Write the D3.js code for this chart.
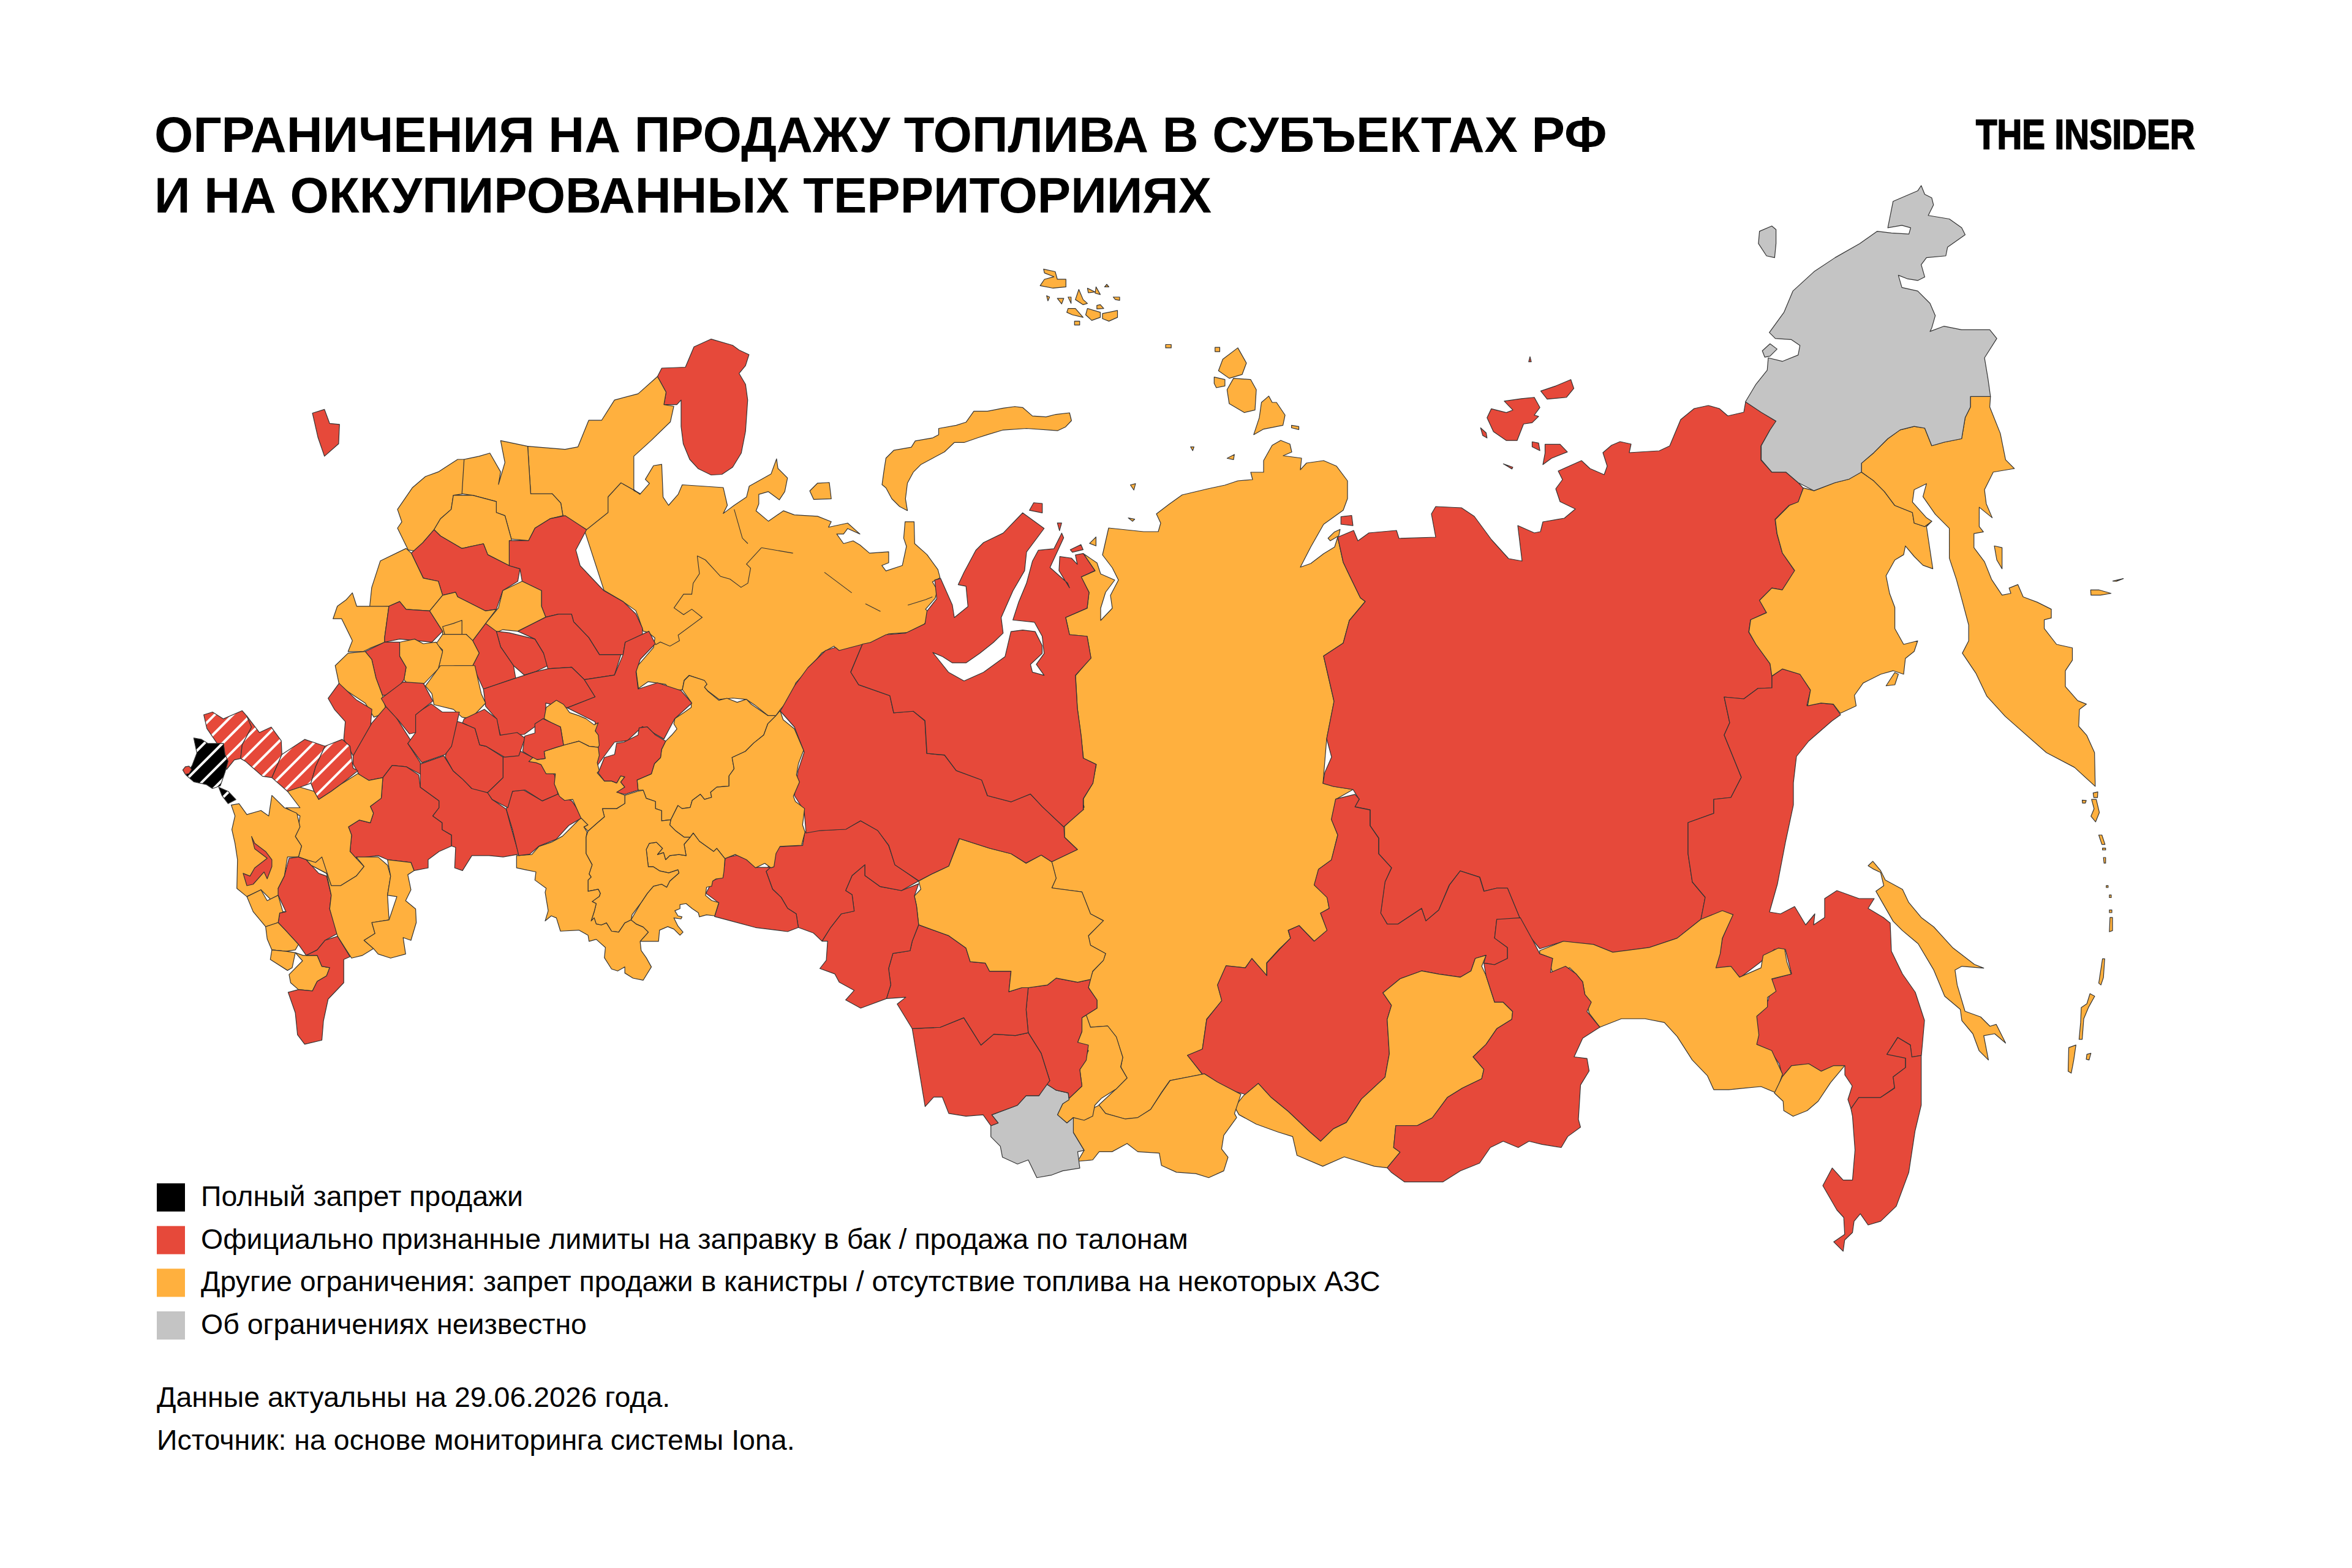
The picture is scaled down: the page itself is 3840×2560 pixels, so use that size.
<!DOCTYPE html>
<html>
<head>
<meta charset="utf-8">
<script src="https://cdnjs.cloudflare.com/ajax/libs/d3/7.8.5/d3.min.js"></script>
<style>
  body { margin: 0; background: #fff; }
  text { font-family: "Liberation Sans", sans-serif; fill: #000; }
</style>
</head>
<body>
<svg id="map" width="3840" height="2560"></svg>
<script>
// text
const titleLines = ["ОГРАНИЧЕНИЯ НА ПРОДАЖУ ТОПЛИВА В СУБЪЕКТАХ РФ", "И НА ОККУПИРОВАННЫХ ТЕРРИТОРИИЯХ"];
const logoText = "THE INSIDER";
const legendKeys = ["ban", "limit", "other", "unknown"];
const legendLabels = [
  "Полный запрет продажи",
  "Официально признанные лимиты на заправку в бак / продажа по талонам",
  "Другие ограничения: запрет продажи в канистры / отсутствие топлива на некоторых АЗС",
  "Об ограничениях неизвестно"
];
const footerLines = ["Данные актуальны на 29.06.2026 года.", "Источник: на основе мониторинга системы Iona."];

// outlines were traced on crops of the map, each sheet is [left, top, width, height]
const sheets = {
  A: [200, 500, 1100, 800], B: [250, 1100, 800, 700], C: [1000, 600, 1000, 800],
  D: [1100, 1300, 1100, 700], E: [1900, 1200, 1100, 800], F: [2600, 280, 900, 900],
  G: [2800, 1100, 800, 960], H: [1600, 400, 1100, 650], I: [850, 1130, 523, 523],
  J: [1000, 700, 700, 700], R: [0, 0, 1568, 1568]
};

// north and far east
const northEurope = [[-103,370],[-60,300],[0,230],[30,190],[70,195],[75,220],[100,240],[135,200],[120,185],[150,135],[180,130],[185,250],[205,280],[240,240],[255,205],[330,210],[405,215],[420,280],[405,310],[445,280],[490,250],[500,210],[580,165],[600,110],[605,145],[640,180],[630,230],[610,260],[570,230],[535,240],[535,275],[525,300],[570,338],[625,300],[665,315],[750,320],[800,340],[790,360],[860,345],[905,385],[860,365],[845,385],[820,385],[845,420],[880,410],[905,425],[940,455],[1010,450],[1010,490],[985,500],[1000,520],[1060,500],[1075,430],[1065,400],[1070,340],[1103,340],[1105,420],[1150,460],[1190,515],[1198,545],[1170,560],[1188,590],[1180,620],[1145,660],[1165,680],[1140,715],[1080,745],[1010,750],[950,780],[915,790],[825,815],[810,795],[765,820],[720,875],[670,930],[650,985],[615,1025],[597,1050],[570,1050],[520,1010],[490,990],[440,985],[390,990],[350,960],[335,945],[345,935],[335,920],[280,902],[262,920],[255,955],[205,955],[195,935],[130,925],[95,950],[85,875],[150,800],[155,765],[130,745],[112,740],[95,690],[85,665],[35,630],[-31,591]];
const novayaZemlya = [[690,375],[695,330],[700,290],[720,265],[765,255],[775,235],[820,225],[835,215],[835,195],[880,185],[905,175],[925,140],[960,140],[1000,130],[1030,125],[1050,128],[1075,155],[1110,158],[1135,150],[1170,145],[1175,170],[1160,190],[1140,202],[1060,195],[1000,200],[960,215],[935,225],[900,240],[875,240],[850,270],[820,290],[790,310],[770,335],[755,370],[750,420],[755,458],[735,445],[715,420],[700,385]];
const kolguev = [[505,395],[525,370],[555,368],[560,420],[515,422]];
const krasnoyarsk = [[1810,862],[1867,868],[1891,868],[1895,854],[1888,839],[1909,823],[1930,808],[1972,798],[2000,792],[2021,785],[2045,783],[2042,771],[2063,771],[2063,752],[2077,727],[2091,719],[2106,725],[2109,738],[2095,744],[2125,748],[2123,767],[2133,756],[2161,752],[2182,761],[2200,785],[2200,814],[2193,833],[2161,856],[2140,893],[2123,926],[2140,920],[2161,904],[2179,893],[2184,877],[2193,918],[2203,939],[2221,976],[2229,982],[2203,1013],[2193,1050],[2161,1071],[2178,1145],[2166,1206],[2160,1279],[2177,1284],[2209,1289],[2181,1305],[2174,1338],[2184,1363],[2174,1404],[2153,1419],[2146,1445],[2167,1465],[2170,1483],[2156,1491],[2167,1519],[2146,1537],[2121,1511],[2103,1519],[2107,1532],[2089,1549],[2068,1572],[2068,1593],[2044,1565],[2033,1580],[2002,1577],[1988,1608],[1995,1634],[1970,1664],[1963,1713],[1939,1723],[1963,1754],[1910,1764],[1896,1784],[1879,1811],[1858,1825],[1837,1827],[1805,1818],[1794,1804],[1822,1778],[1840,1760],[1830,1742],[1833,1726],[1822,1693],[1808,1675],[1780,1677],[1773,1657],[1791,1646],[1791,1633],[1777,1612],[1780,1599],[1784,1586],[1801,1568],[1805,1557],[1780,1543],[1777,1528],[1801,1503],[1780,1492],[1766,1456],[1717,1450],[1724,1434],[1717,1407],[1759,1387],[1738,1367],[1738,1349],[1770,1318],[1766,1300],[1769,1322],[1769,1304],[1784,1279],[1790,1248],[1769,1238],[1765,1202],[1759,1156],[1756,1103],[1781,1074],[1775,1039],[1746,1036],[1740,1008],[1775,993],[1778,967],[1765,942],[1788,932],[1769,904],[1791,919],[1797,937],[1820,947],[1805,967],[1797,993],[1797,1013],[1816,993],[1813,972],[1826,947],[1816,927],[1800,906]];
const yakutia = [[2184,877],[2210,866],[2217,883],[2235,870],[2280,866],[2284,879],[2344,877],[2337,839],[2344,827],[2386,829],[2407,843],[2435,881],[2463,912],[2485,916],[2478,858],[2505,870],[2515,868],[2519,852],[2554,846],[2572,831],[2547,819],[2540,798],[2551,783],[2544,769],[2582,752],[2596,765],[2619,775],[2624,761],[2617,739],[2631,727],[2645,721],[2663,725],[2660,739],[2709,736],[2726,728],[2744,685],[2766,667],[2789,662],[2807,667],[2821,679],[2847,673],[2850,656],[2876,673],[2900,688],[2890,702],[2875,728],[2875,751],[2893,771],[2916,771],[2936,788],[2944,797],[2936,820],[2921,825],[2898,848],[2901,871],[2910,903],[2930,932],[2910,963],[2893,960],[2873,980],[2884,1000],[2858,1012],[2855,1032],[2867,1052],[2890,1084],[2893,1104],[2893,1123],[2870,1124],[2847,1141],[2815,1138],[2824,1180],[2815,1200],[2843,1269],[2826,1302],[2798,1305],[2798,1328],[2756,1343],[2756,1394],[2763,1440],[2784,1465],[2777,1501],[2738,1532],[2693,1547],[2633,1555],[2601,1542],[2552,1537],[2514,1549],[2496,1527],[2482,1501],[2461,1450],[2444,1450],[2423,1455],[2416,1432],[2384,1422],[2366,1445],[2349,1486],[2328,1504],[2321,1483],[2282,1509],[2265,1509],[2254,1491],[2261,1440],[2272,1417],[2251,1394],[2251,1368],[2237,1348],[2237,1322],[2212,1317],[2219,1305],[2209,1289],[2177,1284],[2160,1279],[2163,1261],[2174,1236],[2166,1206],[2178,1145],[2161,1071],[2193,1050],[2203,1013],[2229,982],[2221,976],[2203,939],[2193,918]];
const khabarovsk = [[2815,1138],[2847,1141],[2870,1124],[2893,1123],[2893,1104],[2910,1092],[2939,1101],[2956,1127],[2950,1152],[2973,1148],[2993,1150],[3005,1167],[2991,1177],[2984,1183],[2953,1210],[2933,1235],[2928,1278],[2928,1314],[2915,1375],[2902,1443],[2889,1489],[2907,1492],[2930,1480],[2948,1510],[2963,1492],[2961,1510],[2979,1498],[2979,1467],[2999,1454],[3035,1467],[3060,1467],[3050,1483],[3075,1498],[3086,1507],[3088,1553],[3106,1590],[3127,1620],[3142,1666],[3137,1723],[3121,1726],[3119,1706],[3098,1694],[3081,1721],[3111,1727],[3111,1743],[3091,1758],[3093,1776],[3070,1792],[3035,1792],[3022,1810],[3017,1795],[3024,1773],[3012,1755],[3012,1740],[2994,1740],[2973,1749],[2953,1737],[2925,1740],[2910,1758],[2905,1737],[2892,1718],[2866,1706],[2866,1657],[2887,1633],[2889,1623],[2892,1599],[2925,1590],[2915,1550],[2897,1550],[2874,1571],[2841,1596],[2823,1578],[2800,1581],[2808,1557],[2812,1532],[2829,1493],[2791,1501],[2777,1501],[2784,1465],[2763,1440],[2756,1394],[2756,1343],[2798,1328],[2798,1305],[2826,1302],[2843,1269],[2815,1200],[2824,1180]];
const magadan = [[765,830],[765,855],[800,880],[830,910],[860,950],[910,970],[915,1000],[945,1010],[965,995],[950,1010],[968,1130],[940,1120],[915,1095],[890,1065],[885,1090],[860,1105],[835,1150],[845,1200],[860,1240],[860,1300],[885,1345],[925,1335],[915,1365],[890,1385],[885,1430],[855,1420],[820,1430],[770,1455],[745,1490],[750,1520],[705,1541],[685,1515],[650,1512],[612,1520],[620,1475],[590,1430],[540,1415],[510,1435],[505,1400],[465,1345],[445,1310],[450,1275],[495,1255],[475,1220],[510,1185],[540,1190],[575,1135],[540,1085],[525,1030],[520,990],[560,950],[585,940],[600,900],[630,908],[690,885],[730,875]];
const kamchatka = [[765,830],[800,800],[840,760],[875,735],[915,725],[945,730],[965,780],[1000,770],[1050,760],[1060,700],[1075,670],[1075,640],[1132,640],[1130,670],[1160,745],[1175,820],[1200,845],[1140,855],[1115,905],[1120,945],[1137,985],[1100,955],[1100,1010],[1112,1025],[1085,1030],[1085,1070],[1115,1110],[1135,1160],[1165,1205],[1190,1200],[1185,1185],[1210,1175],[1225,1210],[1265,1225],[1305,1245],[1305,1270],[1285,1275],[1285,1300],[1320,1345],[1365,1355],[1365,1390],[1345,1420],[1345,1465],[1380,1505],[1405,1515],[1385,1530],[1383,1578],[1406,1604],[1428,1653],[1430,1749],[1371,1695],[1291,1653],[1174,1550],[1122,1493],[1091,1428],[1052,1370],[1070,1335],[1070,1290],[1050,1215],[1035,1160],[1015,1100],[1015,1015],[975,975],[940,925],[950,888],[915,905],[910,940],[950,985],[965,995],[945,1010],[915,1000],[910,970],[860,950],[830,910],[800,880],[765,855]];
const karaginsky = [[1143,1065],[1165,1070],[1165,1130],[1150,1105]];
const commanderA = [[1417,1190],[1440,1190],[1475,1200],[1445,1205],[1418,1205]];
const commanderB = [[1480,1165],[1510,1158],[1490,1166]];
const shantarLike = [[835,1463],[850,1440],[860,1425],[870,1430],[860,1460]];
const chukotka = [[435,655],[465,605],[497,565],[500,530],[540,540],[585,522],[590,495],[565,478],[520,475],[503,458],[545,400],[570,340],[630,285],[690,245],[760,205],[810,170],[850,175],[900,178],[905,160],[880,153],[840,160],[855,85],[925,55],[935,40],[945,65],[965,75],[970,95],[955,125],[1015,135],[1050,160],[1060,180],[1010,215],[1005,240],[950,245],[935,265],[945,300],[925,310],[895,305],[870,295],[880,330],[925,340],[960,375],[975,410],[965,445],[960,455],[1000,440],[1050,450],[1130,450],[1150,475],[1115,530],[1125,590],[1132,640],[1075,640],[1075,670],[1060,700],[1050,760],[1000,770],[965,780],[945,730],[915,725],[875,735],[840,760],[800,800],[765,830],[765,855],[730,875],[690,885],[630,908],[585,885],[550,855],[510,855],[480,820],[480,780],[505,735],[522,710],[480,685]];
const wrangel = [[475,170],[510,155],[522,165],[522,205],[518,245],[495,240],[472,205]];
const ayon = [[483,510],[505,490],[525,505],[505,525],[490,528]];
const amur = [[875,690],[930,660],[1000,670],[1045,695],[1130,680],[1195,650],[1250,590],[1300,562],[1325,575],[1300,650],[1295,700],[1285,745],[1320,740],[1340,775],[1390,745],[1395,705],[1430,682],[1445,685],[1450,725],[1460,765],[1415,780],[1425,820],[1405,840],[1405,870],[1380,900],[1385,960],[1380,990],[1415,1010],[1440,1085],[1425,1145],[1390,1125],[1350,1130],[1315,1135],[1280,1135],[1265,1090],[1230,1040],[1195,965],[1165,920],[1120,908],[1065,908],[1015,935],[990,890],[980,830],[975,790],[960,765],[945,745],[905,760],[900,740],[905,715],[875,700]];
const jewish = [[190,1118],[215,1075],[245,1045],[300,1040],[340,1060],[380,1045],[415,1045],[395,1065],[370,1090],[330,1140],[295,1165],[250,1180],[220,1165],[218,1140]];
const primorye = [[660,1018],[630,1022],[625,990],[585,970],[550,1015],[610,1025],[610,1050],[570,1075],[575,1105],[530,1130],[460,1130],[435,1160],[440,1180],[448,1270],[440,1350],[410,1350],[375,1318],[345,1365],[390,1430],[412,1450],[415,1495],[380,1515],[410,1540],[415,1510],[440,1490],[445,1460],[465,1440],[490,1470],[530,1460],[580,1420],[620,1330],[640,1220],[660,1150]];
const sakhalin = [[490,512],[505,500],[530,525],[545,550],[600,575],[620,610],[660,650],[700,675],[760,730],[830,775],[860,785],[790,780],[768,790],[775,830],[800,900],[850,915],[880,940],[900,935],[930,985],[895,960],[860,965],[875,1030],[845,1005],[825,960],[790,925],[785,895],[735,860],[700,790],[650,720],[600,685],[570,660],[515,580],[540,565],[530,530],[505,520]];
const kurils = [
  [[1210,318],[1225,315],[1224,330],[1212,330]], [[1205,335],[1220,335],[1230,370],[1218,395],[1203,380],[1213,360]],
  [[1175,337],[1188,338],[1185,345],[1176,345]], [[1228,430],[1238,430],[1248,455],[1238,455]],
  [[1240,465],[1250,465],[1250,470],[1240,470]], [[1243,490],[1250,490],[1250,505],[1245,505]],
  [[1252,565],[1258,565],[1258,570],[1252,570]], [[1262,590],[1268,590],[1268,597],[1262,597]],
  [[1262,630],[1270,630],[1270,637],[1262,637]], [[1264,650],[1272,650],[1272,685],[1262,688]],
  [[1240,760],[1247,760],[1243,810],[1235,830],[1228,825]],
  [[1200,853],[1215,860],[1195,890],[1180,920],[1175,975],[1165,975],[1170,930],[1172,890],[1190,880]],
  [[1132,997],[1155,990],[1148,1030],[1140,1065],[1130,1060]], [[1190,1015],[1203,1012],[1197,1030],[1188,1028]]
];
const severnaya = [
  [[565,450],[600,405],[620,465],[610,510],[580,525],[555,495]], [[545,520],[570,530],[570,555],[550,562],[545,545]],
  [[575,570],[590,525],[630,530],[643,570],[640,650],[615,660],[580,625]],
  [[655,620],[672,595],[680,620],[690,620],[710,670],[705,710],[660,725],[637,747],[650,680]],
  [[725,710],[742,715],[742,727],[725,720]], [[547,403],[558,403],[558,420],[547,420]], [[432,392],[445,392],[445,405],[432,405]],
  [[255,1175],[270,1150],[270,1185]], [[810,1155],[825,1130],[838,1120],[835,1145],[815,1165]],
  [[350,945],[362,940],[358,965]], [[575,840],[592,825],[590,845]], [[490,795],[498,795],[495,810]], [[345,1075],[360,1080],[355,1088]]
];
const franzJosef = [
  [[148,95],[175,105],[180,135],[200,135],[200,165],[170,170],[140,160],[150,135],[172,125],[150,110]], [[155,200],[162,205],[158,220]],
  [[180,210],[195,210],[190,232]], [[205,205],[212,205],[212,230]], [[230,175],[240,215],[250,230],[240,235],[222,215]],
  [[250,170],[268,185],[252,188]], [[270,165],[280,195],[268,190]], [[280,235],[288,250],[272,252],[272,238]],
  [[205,250],[222,250],[240,285],[215,275],[202,265]], [[250,250],[280,265],[280,285],[260,297],[246,275]],
  [[285,270],[320,258],[320,285],[300,300],[285,290]], [[220,300],[232,300],[232,315],[220,315]],
  [[310,205],[325,205],[325,218],[315,215]], [[295,155],[300,165],[290,165]]
];
const newSiberian = [
  [[1305,575],[1340,555],[1375,530],[1382,565],[1365,600],[1320,607]],
  [[1220,615],[1260,605],[1290,600],[1303,640],[1290,670],[1300,675],[1285,700],[1265,705],[1250,770],[1225,770],[1195,735],[1180,680],[1190,645],[1225,660],[1240,650]],
  [[1165,720],[1178,740],[1180,760],[1170,750]], [[1285,775],[1300,780],[1303,810],[1285,795]],
  [[1315,785],[1350,785],[1367,815],[1330,840],[1310,865],[1315,820]], [[1218,862],[1240,875],[1238,882]],
  [[1280,440],[1283,460],[1277,460]], [[840,1070],[865,1065],[868,1105],[840,1100]],
  [[210,1200],[235,1180],[240,1200],[215,1210]], [[180,1095],[190,1095],[185,1125]], [[115,1045],[125,1015],[145,1018],[145,1055]]
];

// siberia
const irkutsk = [[400,205],[445,190],[455,205],[445,230],[480,240],[480,290],[500,330],[500,380],[530,425],[515,470],[505,570],[520,605],[545,605],[600,555],[610,595],[640,560],[665,480],[690,435],[735,455],[745,500],[775,490],[800,490],[830,590],[775,590],[770,650],[800,680],[800,715],[770,735],[745,730],[750,705],[725,715],[715,755],[690,775],[640,765],[600,755],[550,780],[510,825],[530,865],[520,910],[525,1020],[515,1095],[460,1165],[425,1240],[395,1260],[365,1300],[340,1270],[290,1205],[250,1160],[220,1115],[190,1150],[150,1135],[90,1085],[55,1025],[90,1005],[100,910],[135,850],[125,800],[145,738],[190,745],[205,715],[240,770],[240,730],[270,685],[295,650],[290,625],[315,610],[350,660],[380,625],[365,570],[385,555],[380,520],[350,480],[360,430],[390,400],[405,320],[390,270]];
const buryatia = [[510,825],[550,780],[600,755],[640,765],[690,775],[715,755],[725,715],[750,705],[740,740],[750,770],[770,855],[790,855],[812,885],[810,910],[775,940],[750,990],[720,1030],[745,1070],[740,1100],[695,1130],[660,1160],[625,1225],[590,1250],[540,1250],[535,1320],[550,1335],[520,1385],[490,1380],[420,1350],[370,1380],[310,1345],[300,1285],[265,1270],[215,1245],[175,1215],[165,1190],[185,1155],[220,1115],[250,1160],[290,1205],[340,1270],[365,1300],[395,1260],[425,1240],[460,1165],[515,1095],[525,1020],[520,910],[530,865]];
const zabaykalsky = [[745,730],[770,735],[800,715],[800,680],[770,650],[775,590],[830,585],[860,660],[875,700],[905,715],[900,760],[935,740],[960,765],[975,790],[980,830],[995,855],[985,885],[1015,935],[975,970],[955,1030],[985,1035],[990,1075],[970,1120],[965,1230],[970,1255],[940,1285],[925,1320],[880,1310],[850,1300],[825,1320],[790,1300],[760,1320],[735,1370],[690,1395],[650,1430],[600,1430],[560,1430],[530,1400],[520,1385],[550,1335],[535,1320],[540,1250],[590,1250],[625,1225],[660,1160],[695,1130],[740,1100],[745,1070],[720,1030],[750,990],[775,940],[810,910],[812,885],[790,855],[770,855],[750,770]];
const tuva = [[930,1175],[990,1130],[1005,1160],[1050,1180],[1080,1175],[1110,1145],[1135,1085],[1155,1040],[1235,1015],[1265,1045],[1320,1090],[1305,1160],[1310,1175],[1280,1240],[1275,1290],[1290,1320],[1280,1370],[1245,1395],[1215,1380],[1170,1375],[1135,1350],[1130,1305],[1080,1300],[1055,1270],[1020,1300],[990,1300],[975,1330],[940,1335],[955,1295],[930,1230]];
const khakassia = [[960,800],[970,845],[1010,840],[1030,880],[1045,955],[1040,990],[1055,1030],[1030,1070],[995,1105],[980,1130],[975,1170],[955,1185],[930,1175],[915,1195],[893,1165],[905,1125],[920,1105],[950,1060],[945,1000],[965,930],[940,900],[950,860],[950,810]];
const altaiRep = [[740,1165],[800,1130],[820,1095],[850,1095],[865,1050],[890,1075],[918,1085],[920,1110],[905,1125],[893,1165],[915,1195],[930,1175],[930,1230],[955,1295],[940,1300],[945,1360],[905,1370],[880,1385],[845,1395],[825,1330],[800,1345],[765,1320],[760,1280],[738,1245],[738,1205],[755,1195]];
const kemerovo = [[825,700],[870,690],[890,665],[940,680],[970,670],[965,700],[985,745],[985,775],[950,810],[950,860],[940,900],[965,910],[960,965],[945,1000],[950,1060],[920,1105],[918,1085],[890,1075],[865,1050],[875,1040],[865,990],[855,940],[825,865],[820,780]];
const altaiKrai = [[555,850],[620,845],[675,810],[695,860],[715,910],[745,870],[795,875],[825,865],[855,940],[865,990],[875,1040],[850,1095],[820,1095],[800,1130],[740,1165],[755,1195],[738,1205],[720,1165],[680,1170],[640,1160],[625,1100],[605,1100],[585,1135]];
const novosibirsk = [[495,740],[505,690],[500,630],[510,575],[550,565],[555,530],[570,470],[640,510],[680,555],[690,605],[725,610],[735,640],[785,640],[780,715],[810,700],[825,700],[820,780],[825,865],[795,875],[745,870],[715,910],[695,860],[675,810],[620,845],[555,850],[520,760],[540,735]];
const tomsk = [[570,310],[600,285],[640,255],[665,155],[735,190],[785,210],[820,245],[855,215],[880,240],[890,300],[880,335],[950,350],[970,430],[1000,455],[965,510],[970,545],[1005,575],[1000,600],[975,640],[970,670],[940,680],[890,665],[870,690],[825,700],[810,700],[780,715],[785,640],[735,640],[725,610],[690,605],[680,555],[640,510],[570,470],[565,400],[560,365],[575,340]];
const omsk = [[345,530],[365,480],[390,430],[420,420],[415,360],[400,345],[415,290],[445,250],[445,290],[480,330],[530,345],[570,320],[560,365],[565,400],[570,470],[555,530],[550,565],[510,575],[500,630],[505,690],[495,740],[435,775],[400,745],[420,710],[385,680],[375,650],[340,630],[355,600],[358,530]];
const tyumen = [[215,275],[240,185],[300,180],[305,130],[340,125],[400,120],[435,90],[475,125],[500,180],[515,250],[570,310],[530,345],[480,330],[445,290],[445,250],[415,290],[400,345],[415,360],[420,420],[390,430],[365,480],[345,530],[325,500],[290,480],[285,430],[265,410],[250,370],[230,340]];
const kurgan = [[120,225],[150,215],[175,235],[190,260],[225,260],[215,275],[230,340],[250,370],[265,410],[285,430],[290,480],[265,495],[190,480],[155,465],[95,440],[105,390],[75,355],[90,310],[115,290]];
const khanty = [[1274,1161],[1297,1120],[1319,1090],[1348,1062],[1364,1057],[1370,1062],[1408,1052],[1389,1097],[1402,1118],[1453,1136],[1459,1164],[1491,1161],[1510,1177],[1513,1230],[1542,1233],[1561,1258],[1603,1273],[1612,1299],[1651,1309],[1682,1296],[1702,1317],[1737,1350],[1738,1367],[1759,1387],[1717,1407],[1700,1396],[1675,1409],[1651,1394],[1616,1385],[1566,1369],[1549,1414],[1521,1427],[1500,1438],[1461,1412],[1451,1380],[1433,1356],[1405,1340],[1381,1354],[1339,1356],[1316,1360],[1313,1324],[1297,1299],[1303,1258],[1313,1228],[1297,1187]];
const yamal = [[825,680],[840,675],[870,760],[875,800],[910,765],[905,700],[885,695],[900,655],[930,585],[950,560],[1000,530],[1050,465],[1105,515],[1060,590],[1055,650],[1025,715],[995,800],[1000,850],[975,880],[940,915],[905,945],[870,945],[845,925],[820,912],[860,975],[900,1003],[950,975],[1005,925],[1020,845],[1050,840],[1082,845],[1100,890],[1100,915],[1070,950],[1075,975],[1105,985],[1085,950],[1105,915],[1100,860],[1080,815],[1025,808],[1040,750],[1060,690],[1075,620],[1090,585],[1130,580],[1150,530],[1155,545],[1120,640],[1165,690],[1170,705],[1143,650],[1145,605],[1175,610],[1190,630],[1185,600],[1205,595],[1235,650],[1200,670],[1220,720],[1215,770],[1160,800],[1170,855],[1215,860],[1225,930],[1185,985],[1190,1090],[1200,1180],[1205,1250],[1238,1270],[1230,1330],[1205,1380],[1205,1415],[1155,1470],[1100,1405],[1070,1365],[1020,1390],[960,1370],[945,1320],[880,1290],[850,1240],[805,1235],[800,1130],[770,1100],[720,1105],[710,1050],[630,1015],[610,975],[640,885],[660,880],[700,855],[750,850],[800,820],[805,780],[830,740]];

// urals and lower volga
const perm = [[792,-12],[801,-57],[825,-81],[900,-57],[912,-39],[900,-24],[918,-3],[970,40],[1010,30],[1060,50],[1105,35],[1130,60],[1210,115],[1250,115],[1210,155],[1190,210],[1140,250],[1100,290],[1035,320],[1045,375],[1020,410],[1020,460],[960,465],[930,490],[935,515],[900,525],[880,500],[840,530],[830,565],[790,570],[770,555],[735,625],[690,630],[690,580],[660,570],[660,535],[615,520],[600,480],[575,480],[570,430],[640,400],[655,350],[685,320],[690,280],[710,240],[740,210],[765,180],[750,155],[755,130],[800,100],[835,75],[835,50]];
const sverdlovsk = [[1270,90],[1285,135],[1340,180],[1385,285],[1360,350],[1350,405],[1365,440],[1335,510],[1345,535],[1390,570],[1380,650],[1392,685],[1375,750],[1270,755],[1250,790],[1240,855],[1225,860],[1195,838],[1150,860],[1105,820],[1050,795],[1000,815],[960,765],[945,780],[875,730],[845,690],[830,710],[800,710],[760,680],[730,650],[735,625],[770,555],[790,570],[830,565],[840,530],[880,500],[900,525],[935,515],[930,490],[960,465],[1020,460],[1020,410],[1045,375],[1035,320],[1100,290],[1140,250],[1190,210],[1210,155],[1250,115]];
const orenburg = [[830,710],[845,690],[875,730],[945,780],[960,765],[1000,815],[995,880],[990,910],[955,915],[940,925],[935,950],[910,955],[905,995],[935,1020],[970,1030],[950,1095],[910,1090],[875,1100],[870,1080],[840,1060],[810,1035],[780,1040],[780,1060],[755,1070],[770,1095],[790,1100],[785,1110],[750,1105],[770,1145],[795,1175],[780,1190],[750,1160],[720,1148],[680,1165],[675,1220],[585,1220],[625,1175],[600,1150],[565,1135],[540,1115],[590,1030],[620,985],[650,950],[690,940],[715,955],[730,925],[775,885],[770,870],[725,885],[680,875],[650,855],[625,855],[615,770],[630,740],[665,735],[695,765],[670,795],[700,785],[710,820],[730,800],[775,795],[810,800],[800,745]];
const bashkir = [[510,505],[575,485],[600,480],[615,520],[660,535],[660,570],[690,580],[690,630],[735,625],[730,650],[760,680],[800,710],[830,710],[800,745],[810,800],[775,795],[730,800],[710,820],[700,785],[670,795],[695,765],[665,735],[630,740],[615,770],[625,855],[650,855],[680,875],[725,885],[770,870],[775,885],[730,925],[715,955],[690,940],[650,950],[620,985],[590,1030],[545,1090],[540,1120],[510,1130],[480,1175],[445,1170],[420,1130],[395,1140],[370,1135],[360,1105],[345,1120],[360,1075],[370,1035],[350,1025],[385,1000],[390,985],[380,965],[330,975],[330,920],[345,905],[335,890],[350,845],[320,790],[320,710],[330,680],[375,640],[410,610],[400,570],[470,570],[510,545]];
const saratov = [[295,615],[330,650],[310,660],[325,685],[320,710],[320,790],[350,845],[335,890],[345,905],[330,920],[330,975],[380,965],[390,985],[385,1000],[350,1025],[370,1035],[360,1075],[345,1120],[360,1105],[370,1135],[395,1140],[420,1130],[445,1170],[480,1175],[510,1130],[540,1115],[565,1135],[600,1150],[625,1175],[585,1220],[590,1265],[615,1300],[640,1345],[600,1410],[550,1400],[510,1375],[510,1345],[475,1365],[445,1355],[410,1300],[415,1250],[370,1210],[335,1220],[330,1190],[285,1165],[195,1170],[175,1105],[150,1095],[120,1120],[135,1070],[120,980],[125,960],[70,920],[75,880],[25,870],[-20,860],[-20,800],[55,795],[90,755],[150,735],[205,705],[270,640]];
const samara = [[40,340],[70,310],[80,330],[120,325],[115,290],[175,270],[210,260],[285,240],[335,265],[380,270],[385,310],[375,345],[385,385],[375,395],[410,435],[445,435],[470,445],[490,410],[510,415],[490,440],[510,465],[475,490],[510,505],[510,545],[470,570],[400,570],[410,610],[375,640],[330,680],[310,660],[330,650],[295,615],[270,560],[255,525],[215,530],[190,510],[165,450],[170,400],[125,400],[100,355],[75,345]];
const ulyanovsk = [[115,130],[125,75],[175,40],[210,60],[240,100],[285,115],[320,130],[360,160],[380,150],[365,190],[380,210],[385,260],[380,270],[335,265],[285,240],[210,260],[195,170],[150,150]];
const bashkirSouth = [[380,395],[410,320],[460,305],[470,250],[505,245],[575,210],[580,175],[620,170],[660,210],[710,240],[690,280],[685,320],[655,350],[640,400],[570,430],[575,480],[510,500],[470,490],[510,465],[490,440],[510,415],[490,410],[470,445],[445,435],[410,435]];
const penzaLike = [[20,215],[70,200],[70,155],[110,130],[195,170],[210,260],[175,270],[115,290],[120,325],[80,330],[50,315],[10,290]];

// northwest and centre
const kaliningrad = [[442,342],[470,330],[482,375],[505,378],[503,440],[470,480],[455,420]];
const murmansk = [[1245,225],[1255,198],[1310,195],[1330,130],[1370,105],[1420,125],[1435,140],[1458,155],[1450,190],[1435,215],[1450,250],[1455,300],[1450,400],[1440,470],[1420,515],[1395,538],[1370,540],[1340,520],[1320,490],[1305,440],[1300,385],[1300,300],[1290,315],[1260,315],[1265,275]];
const karelia = [[943,448],[1030,458],[1060,450],[1085,365],[1115,365],[1145,300],[1200,280],[1245,225],[1265,275],[1260,315],[1283,320],[1275,370],[1230,430],[1190,480],[1190,590],[1205,600],[1160,565],[1130,610],[1130,660],[1080,715],[1025,670],[1020,630],[1000,600],[985,610],[950,600]];
const leningrad = [[665,780],[640,710],[650,690],[640,650],[675,580],[705,545],[735,530],[780,490],[795,490],[795,600],[770,605],[765,650],[740,680],[725,715],[700,755],[690,785]];
const novgorod = [[795,490],[830,480],[855,470],[880,530],[875,570],[890,500],[880,430],[943,448],[950,600],[1000,600],[1020,630],[1025,670],[995,680],[960,710],[945,750],[905,745],[890,670],[870,660],[870,625],[815,605],[790,600]];
const pskov = [[770,605],[815,605],[870,625],[870,660],[890,670],[905,745],[900,830],[850,795],[840,760],[790,775],[740,735],[725,715],[740,680],[765,650]];
const tver = [[725,715],[740,735],[790,775],[840,760],[850,795],[900,830],[925,840],[920,880],[885,910],[870,970],[845,975],[780,930],[775,915],[745,925],[735,880],[700,870],[672,790],[700,755]];
const vologda = [[900,750],[945,750],[960,710],[995,680],[1030,670],[1080,715],[1055,780],[1065,830],[1120,910],[1165,945],[1195,985],[1210,1030],[1210,1060],[1170,1075],[1165,1115],[1110,1115],[1085,1060],[1050,1010],[1045,985],[1015,985],[985,995],[975,960],[975,910],[930,880],[925,840],[900,830]];
const yaroslavl = [[930,880],[975,910],[975,960],[985,995],[920,1040],[885,1035],[860,1050],[845,1015],[875,965],[885,910]];
const ivanovo = [[870,1040],[900,1045],[960,1065],[980,1110],[990,1150],[960,1170],[935,1180],[910,1150],[880,1090]];
const kirov = [[920,1040],[985,995],[1015,985],[1045,985],[1050,1010],[1085,1060],[1110,1115],[1160,1115],[1145,1180],[1075,1195],[1045,1155],[990,1160],[980,1110],[960,1065]];
const vladimir = [[845,1015],[870,1040],[880,1090],[910,1150],[915,1190],[840,1225],[815,1150],[830,1110],[815,1070]];
const nizhny = [[840,1225],[915,1190],[960,1170],[990,1160],[1045,1155],[1075,1195],[1100,1250],[1035,1285],[985,1270],[985,1320],[935,1370],[880,1375],[870,1320],[845,1280]];
const tatarstan = [[1075,1195],[1145,1180],[1165,1115],[1170,1075],[1225,1040],[1240,1080],[1205,1130],[1195,1170],[1200,1225],[1245,1205],[1300,1230],[1325,1270],[1285,1320],[1260,1385],[1210,1345],[1175,1390],[1145,1395],[1105,1470],[1100,1330],[1035,1285],[1100,1250]];
const smolenskUp = [[660,775],[600,815],[580,900],[575,965],[620,960],[645,945],[660,970],[715,975],[745,925],[735,880],[700,870],[672,790]];
const border1 = [[490,1000],[500,960],[520,940],[535,917],[545,960],[620,960],[610,1060],[610,1075],[575,1095],[560,1105],[525,1105],[535,1070],[510,1000]];
const kaluga = [[620,960],[645,945],[660,970],[715,975],[745,1040],[720,1075],[645,1065],[610,1075],[610,1060]];
const moscowOblast = [[745,925],[775,915],[780,930],[845,975],[870,970],[845,1015],[815,1070],[800,1050],[745,1050],[745,1040],[715,975]];
const moscowCity = [[745,1025],[770,1015],[790,1005],[790,1050],[750,1050]];
const ryazan = [[745,1050],[800,1050],[815,1070],[830,1110],[815,1150],[775,1150],[735,1160],[745,1100],[730,1080]];
const tula = [[645,1075],[680,1065],[700,1080],[730,1075],[745,1105],[735,1160],[700,1210],[675,1225],[655,1195],[660,1155],[645,1120]];
const bryansk = [[565,1105],[610,1075],[645,1075],[645,1120],[660,1155],[655,1195],[630,1245],[605,1245],[590,1190],[580,1130]];
const kursk = [[525,1110],[565,1105],[580,1130],[590,1190],[605,1245],[615,1300],[585,1315],[565,1270],[505,1215],[495,1150]];
const tambov = [[705,1215],[740,1150],[820,1150],[835,1240],[845,1270],[810,1320],[790,1315],[770,1290],[725,1275],[720,1240]];

// south
const belgorod = [[560,90],[595,35],[650,95],[700,130],[695,205],[670,280],[640,300],[610,240],[615,175],[580,130]];
const voronezh = [[640,300],[700,180],[745,120],[775,155],[825,245],[815,255],[855,325],[860,370],[810,340],[765,335],[735,380],[690,390],[660,370],[640,330]];
const rostov = [[625,560],[660,535],[695,545],[705,510],[695,485],[730,455],[735,380],[765,335],[810,340],[850,370],[855,415],[915,465],[915,490],[895,520],[925,545],[925,570],[955,590],[955,630],[915,650],[880,680],[880,710],[835,720],[825,690],[750,680],[720,665],[650,675],[630,650],[635,590]];
const volgograd = [[855,330],[930,300],[960,355],[990,385],[1020,420],[1065,420],[1085,460],[1130,495],[1145,560],[1170,660],[1120,670],[1075,665],[1020,665],[990,720],[965,710],[968,635],[955,630],[955,590],[925,570],[925,545],[895,520],[915,490],[915,465],[855,415],[855,370]];
const astrakhanLike = [[1150,430],[1185,425],[1245,465],[1295,440],[1340,465],[1375,525],[1330,555],[1290,605],[1235,630],[1205,660],[1170,665],[1150,570],[1130,495]];
const lipetsk = [[935,305],[960,170],[990,180],[1030,200],[1045,260],[1065,265],[1120,305],[1120,380],[1070,435],[1020,420],[990,385],[960,355]];
const penza = [[1070,435],[1120,380],[1120,305],[1170,280],[1230,315],[1285,370],[1295,440],[1245,465],[1190,425],[1150,430],[1135,490],[1085,460]];
const oryol = [[835,150],[890,110],[925,140],[980,140],[955,265],[935,295],[860,325],[815,255],[840,215]];
const orelNorth = [[730,90],[800,30],[865,35],[895,100],[840,150],[840,215],[820,220],[785,170],[745,120]];
const mordovia = [[995,165],[1060,130],[1100,165],[1110,225],[1165,215],[1190,235],[1170,300],[1125,305],[1065,265],[1045,260],[1030,200],[990,180]];
const kherson = [[162,150],[190,140],[225,165],[285,135],[300,155],[315,195],[285,260],[280,310],[260,315],[235,350],[225,255],[205,255],[172,200]];
const zaporozhye = [[300,155],[340,215],[378,195],[410,245],[412,295],[380,380],[350,375],[320,345],[295,320],[280,310],[285,260],[315,195]];
const donetsk = [[412,295],[485,240],[550,265],[520,340],[505,400],[470,415],[430,430],[380,380]];
const luhansk = [[550,265],[605,240],[630,265],[640,345],[655,355],[600,405],[570,430],[530,460],[515,430],[505,400],[520,340]];
const crimea = [[130,235],[155,240],[175,255],[225,255],[230,295],[240,320],[230,360],[215,410],[190,420],[170,405],[130,395],[105,370],[125,335],[140,290]];
const kerch = [[210,415],[240,430],[265,460],[240,475],[220,445]];
const sevastopol = [[95,352],[103,340],[115,338],[123,350],[115,365],[103,368]];
const donOrange = [[430,430],[470,415],[515,430],[530,460],[570,430],[600,405],[655,365],[690,390],[735,380],[730,455],[695,485],[705,510],[695,545],[660,535],[625,560],[635,590],[630,650],[650,675],[675,705],[650,740],[600,775],[570,775],[555,730],[505,700],[490,680],[465,670],[475,630],[455,595],[465,560],[470,520],[425,490],[470,490]];
const krasnodar = [[250,480],[275,475],[300,515],[345,500],[370,520],[380,445],[420,490],[460,510],[470,560],[455,595],[475,630],[465,670],[430,670],[420,740],[400,785],[410,810],[380,830],[345,790],[300,815],[268,785],[270,680],[262,620],[252,570],[262,520]];
const adygea = [[315,595],[325,620],[360,650],[380,680],[380,705],[365,750],[355,725],[320,770],[300,775],[288,730],[310,740],[325,710],[365,675],[325,640]];
const stavropol = [[435,675],[465,670],[490,680],[530,730],[555,740],[570,810],[565,860],[590,950],[550,975],[525,1010],[490,1030],[465,990],[425,940],[400,910],[405,875],[425,870],[400,810],[400,785],[420,740]];
const kalmykia = [[490,680],[520,690],[540,670],[570,775],[600,775],[650,740],[675,705],[650,670],[720,670],[750,700],[760,740],[750,810],[755,900],[700,910],[710,950],[675,975],[705,1005],[670,1030],[635,1040],[590,960],[565,860],[570,810],[555,730],[505,700]];
const astrakhan = [[750,680],[825,690],[835,720],[815,735],[825,790],[808,830],[840,860],[842,910],[825,975],[800,965],[808,1025],[760,1040],[720,1025],[705,1005],[675,975],[710,950],[700,910],[755,900],[780,815],[750,810],[760,740]];
const karachay = [[300,815],[345,790],[365,830],[400,810],[415,870],[425,870],[405,875],[400,910],[360,925],[320,870]];
const kabarda = [[360,925],[400,910],[425,940],[465,990],[455,1010],[425,1015],[380,1010],[365,970]];
const ossetia = [[380,1010],[425,1015],[455,1020],[445,1075],[430,1085],[375,1045]];
const chechnya = [[455,1020],[480,1030],[525,1030],[540,1070],[565,1075],[555,1105],[525,1125],[510,1160],[465,1155],[440,1130],[435,1100],[478,1050]];
const dagestan = [[490,1030],[525,1010],[550,975],[590,960],[630,1035],[610,1045],[610,1130],[560,1190],[545,1270],[540,1340],[485,1355],[462,1320],[455,1240],[432,1165],[465,1155],[510,1160],[525,1125],[555,1105],[565,1075],[540,1070],[525,1030]];

// thin inner borders on the orange north, open lines on sheet J
const innerLines = [
  [[310,465],[340,480],[395,540],[430,550],[470,580],[495,565],[505,510],[490,495],[545,435]],
  [[310,465],[318,530],[295,565],[290,605],[260,605],[225,655],[260,680],[290,660],[328,690],[240,755],[245,775],[210,795],[175,780],[157,790]],
  [[545,435],[660,455]], [[775,525],[875,600]], [[925,640],[980,668]], [[1080,645],[1145,625],[1170,615]], [[445,295],[475,400],[495,420]]
];

// draw order matters: later shapes sit on top of earlier ones
const regions = [
  ["other", "J", northEurope], ["other", "C", novayaZemlya], ["other", "C", kolguev],
  ["other", "R", krasnoyarsk], ["limit", "R", yakutia], ["limit", "R", khabarovsk],
  ["other", "F", magadan], ["other", "F", kamchatka], ["other", "F", karaginsky], ["other", "F", commanderA], ["other", "F", commanderB], ["other", "F", shantarLike],
  ["unknown", "F", chukotka], ["unknown", "F", wrangel], ["unknown", "F", ayon],
  ["other", "E", amur], ["limit", "G", primorye], ["other", "G", jewish], ["other", "G", sakhalin],
  ...kurils.map(d => ["other", "G", d]), ...severnaya.map(d => ["other", "H", d]),
  ...franzJosef.map(d => ["other", "H", d]), ...newSiberian.map(d => ["limit", "H", d]),
  ["limit", "E", irkutsk], ["other", "E", buryatia], ["limit", "E", zabaykalsky],
  ["other", "D", tuva], ["other", "D", khakassia], ["unknown", "D", altaiRep], ["limit", "D", kemerovo], ["limit", "D", altaiKrai],
  ["limit", "D", novosibirsk], ["other", "D", tomsk], ["limit", "D", omsk], ["limit", "D", tyumen], ["limit", "D", kurgan],
  ["limit", "R", khanty], ["limit", "C", yamal],
  ["other", "I", perm], ["other", "I", sverdlovsk], ["other", "I", orenburg], ["other", "I", bashkir], ["other", "I", saratov],
  ["limit", "A", kaliningrad], ["limit", "A", murmansk], ["other", "A", karelia], ["other", "A", leningrad], ["other", "A", novgorod], ["other", "A", pskov],
  ["limit", "A", tver], ["limit", "A", vologda], ["other", "A", yaroslavl], ["limit", "A", ivanovo], ["limit", "A", kirov], ["limit", "A", vladimir],
  ["limit", "A", nizhny], ["limit", "A", tatarstan], ["other", "A", smolenskUp], ["other", "A", border1], ["limit", "A", kaluga],
  ["other", "A", moscowOblast], ["other", "A", moscowCity], ["other", "A", ryazan], ["other", "A", tula], ["limit", "A", bryansk], ["other", "A", kursk], ["other", "A", tambov],
  ["limit", "B", belgorod], ["limit", "B", voronezh], ["limit", "B", rostov], ["limit", "B", volgograd], ["limit", "B", astrakhanLike],
  ["limit", "B", lipetsk], ["limit", "B", penza], ["limit", "B", oryol], ["limit", "B", orelNorth], ["limit", "B", mordovia],
  ["other", "I", ulyanovsk], ["other", "I", samara], ["limit", "I", bashkirSouth], ["limit", "I", penzaLike],
  ["occupied", "B", kherson], ["occupied", "B", zaporozhye], ["occupied", "B", donetsk], ["occupied", "B", luhansk],
  ["banHatch", "B", crimea], ["banHatch", "B", kerch], ["limit", "B", sevastopol],
  ["other", "B", donOrange], ["other", "B", krasnodar], ["limit", "B", adygea], ["limit", "B", stavropol], ["other", "B", kalmykia], ["other", "B", astrakhan],
  ["other", "B", karachay], ["other", "B", kabarda], ["other", "B", ossetia], ["other", "B", chechnya], ["limit", "B", dagestan]
];

const colors = { ban: "#000000", limit: "#e6493a", other: "#ffb03e", unknown: "#c4c4c4" };
const svg = d3.select("#map");
const W = 3840, H = 2560;

svg.append("rect").attr("width", W).attr("height", H).attr("fill", "#fff");

// hatching for occupied territories, red and black versions share the same stripes
const defs = svg.append("defs");
[["occupiedFill", colors.limit], ["banFill", colors.ban]].forEach(([id, bg]) => {
  const p = defs.append("pattern").attr("id", id).attr("patternUnits", "userSpaceOnUse")
    .attr("width", 21).attr("height", 21).attr("patternTransform", "rotate(45)");
  p.append("rect").attr("width", 21).attr("height", 21).attr("fill", bg);
  p.append("rect").attr("width", 4).attr("height", 21).attr("fill", "#fff");
});

const fillFor = s => s === "occupied" ? "url(#occupiedFill)" : s === "banHatch" ? "url(#banFill)" : colors[s];

// one pair of scales per tracing sheet
const scales = {};
Object.entries(sheets).forEach(([k, [x0, y0, w, h]]) => {
  scales[k] = {
    x: d3.scaleLinear().domain([0, 1568]).range([x0, x0 + w]),
    y: d3.scaleLinear().domain([0, 1568]).range([y0, y0 + h])
  };
});

function lineFor(sheet, closed) {
  const s = scales[sheet];
  return d3.line().x(d => s.x(d[0])).y(d => s.y(d[1])).curve(closed ? d3.curveLinearClosed : d3.curveLinear);
}

const map = svg.append("g");
map.selectAll("path.region")
  .data(regions)
  .enter().append("path")
  .attr("class", "region")
  .attr("d", d => lineFor(d[1], true)(d[2]))
  .attr("fill", d => fillFor(d[0]))
  .attr("stroke", "#333")
  .attr("stroke-width", 1.2)
  .attr("stroke-linejoin", "round");

map.selectAll("path.inner")
  .data(innerLines)
  .enter().append("path")
  .attr("class", "inner")
  .attr("d", d => lineFor("J", false)(d))
  .attr("fill", "none")
  .attr("stroke", "#333")
  .attr("stroke-width", 1.1);

// title and logo
svg.selectAll("text.title")
  .data(titleLines)
  .enter().append("text")
  .attr("class", "title")
  .attr("x", 252)
  .attr("y", (d, i) => 248 + i * 99)
  .attr("font-size", 81.5)
  .attr("font-weight", 700)
  .text(d => d);

// logo is a tight heavy face, squeeze the bold instead of overlapping letters
svg.append("text")
  .attr("transform", "translate(3226,243) scale(0.83,1)")
  .attr("font-size", 68)
  .attr("font-weight", 700)
  .attr("stroke", "#000")
  .attr("stroke-width", 2)
  .text(logoText);

// legend
const legendY = d3.scalePoint().domain(legendKeys).range([1932, 2141]);
svg.selectAll("rect.swatch")
  .data(legendKeys)
  .enter().append("rect")
  .attr("class", "swatch")
  .attr("x", 256)
  .attr("y", d => legendY(d))
  .attr("width", 46)
  .attr("height", 46)
  .attr("fill", d => colors[d]);

svg.selectAll("text.legend")
  .data(legendKeys)
  .enter().append("text")
  .attr("class", "legend")
  .attr("x", 328)
  .attr("y", d => legendY(d) + 37)
  .attr("font-size", 46.5)
  .text((d, i) => legendLabels[i]);

svg.selectAll("text.footer")
  .data(footerLines)
  .enter().append("text")
  .attr("class", "footer")
  .attr("x", 256)
  .attr("y", (d, i) => 2297 + i * 70)
  .attr("font-size", 46.5)
  .text(d => d);
</script>
</body>
</html>
